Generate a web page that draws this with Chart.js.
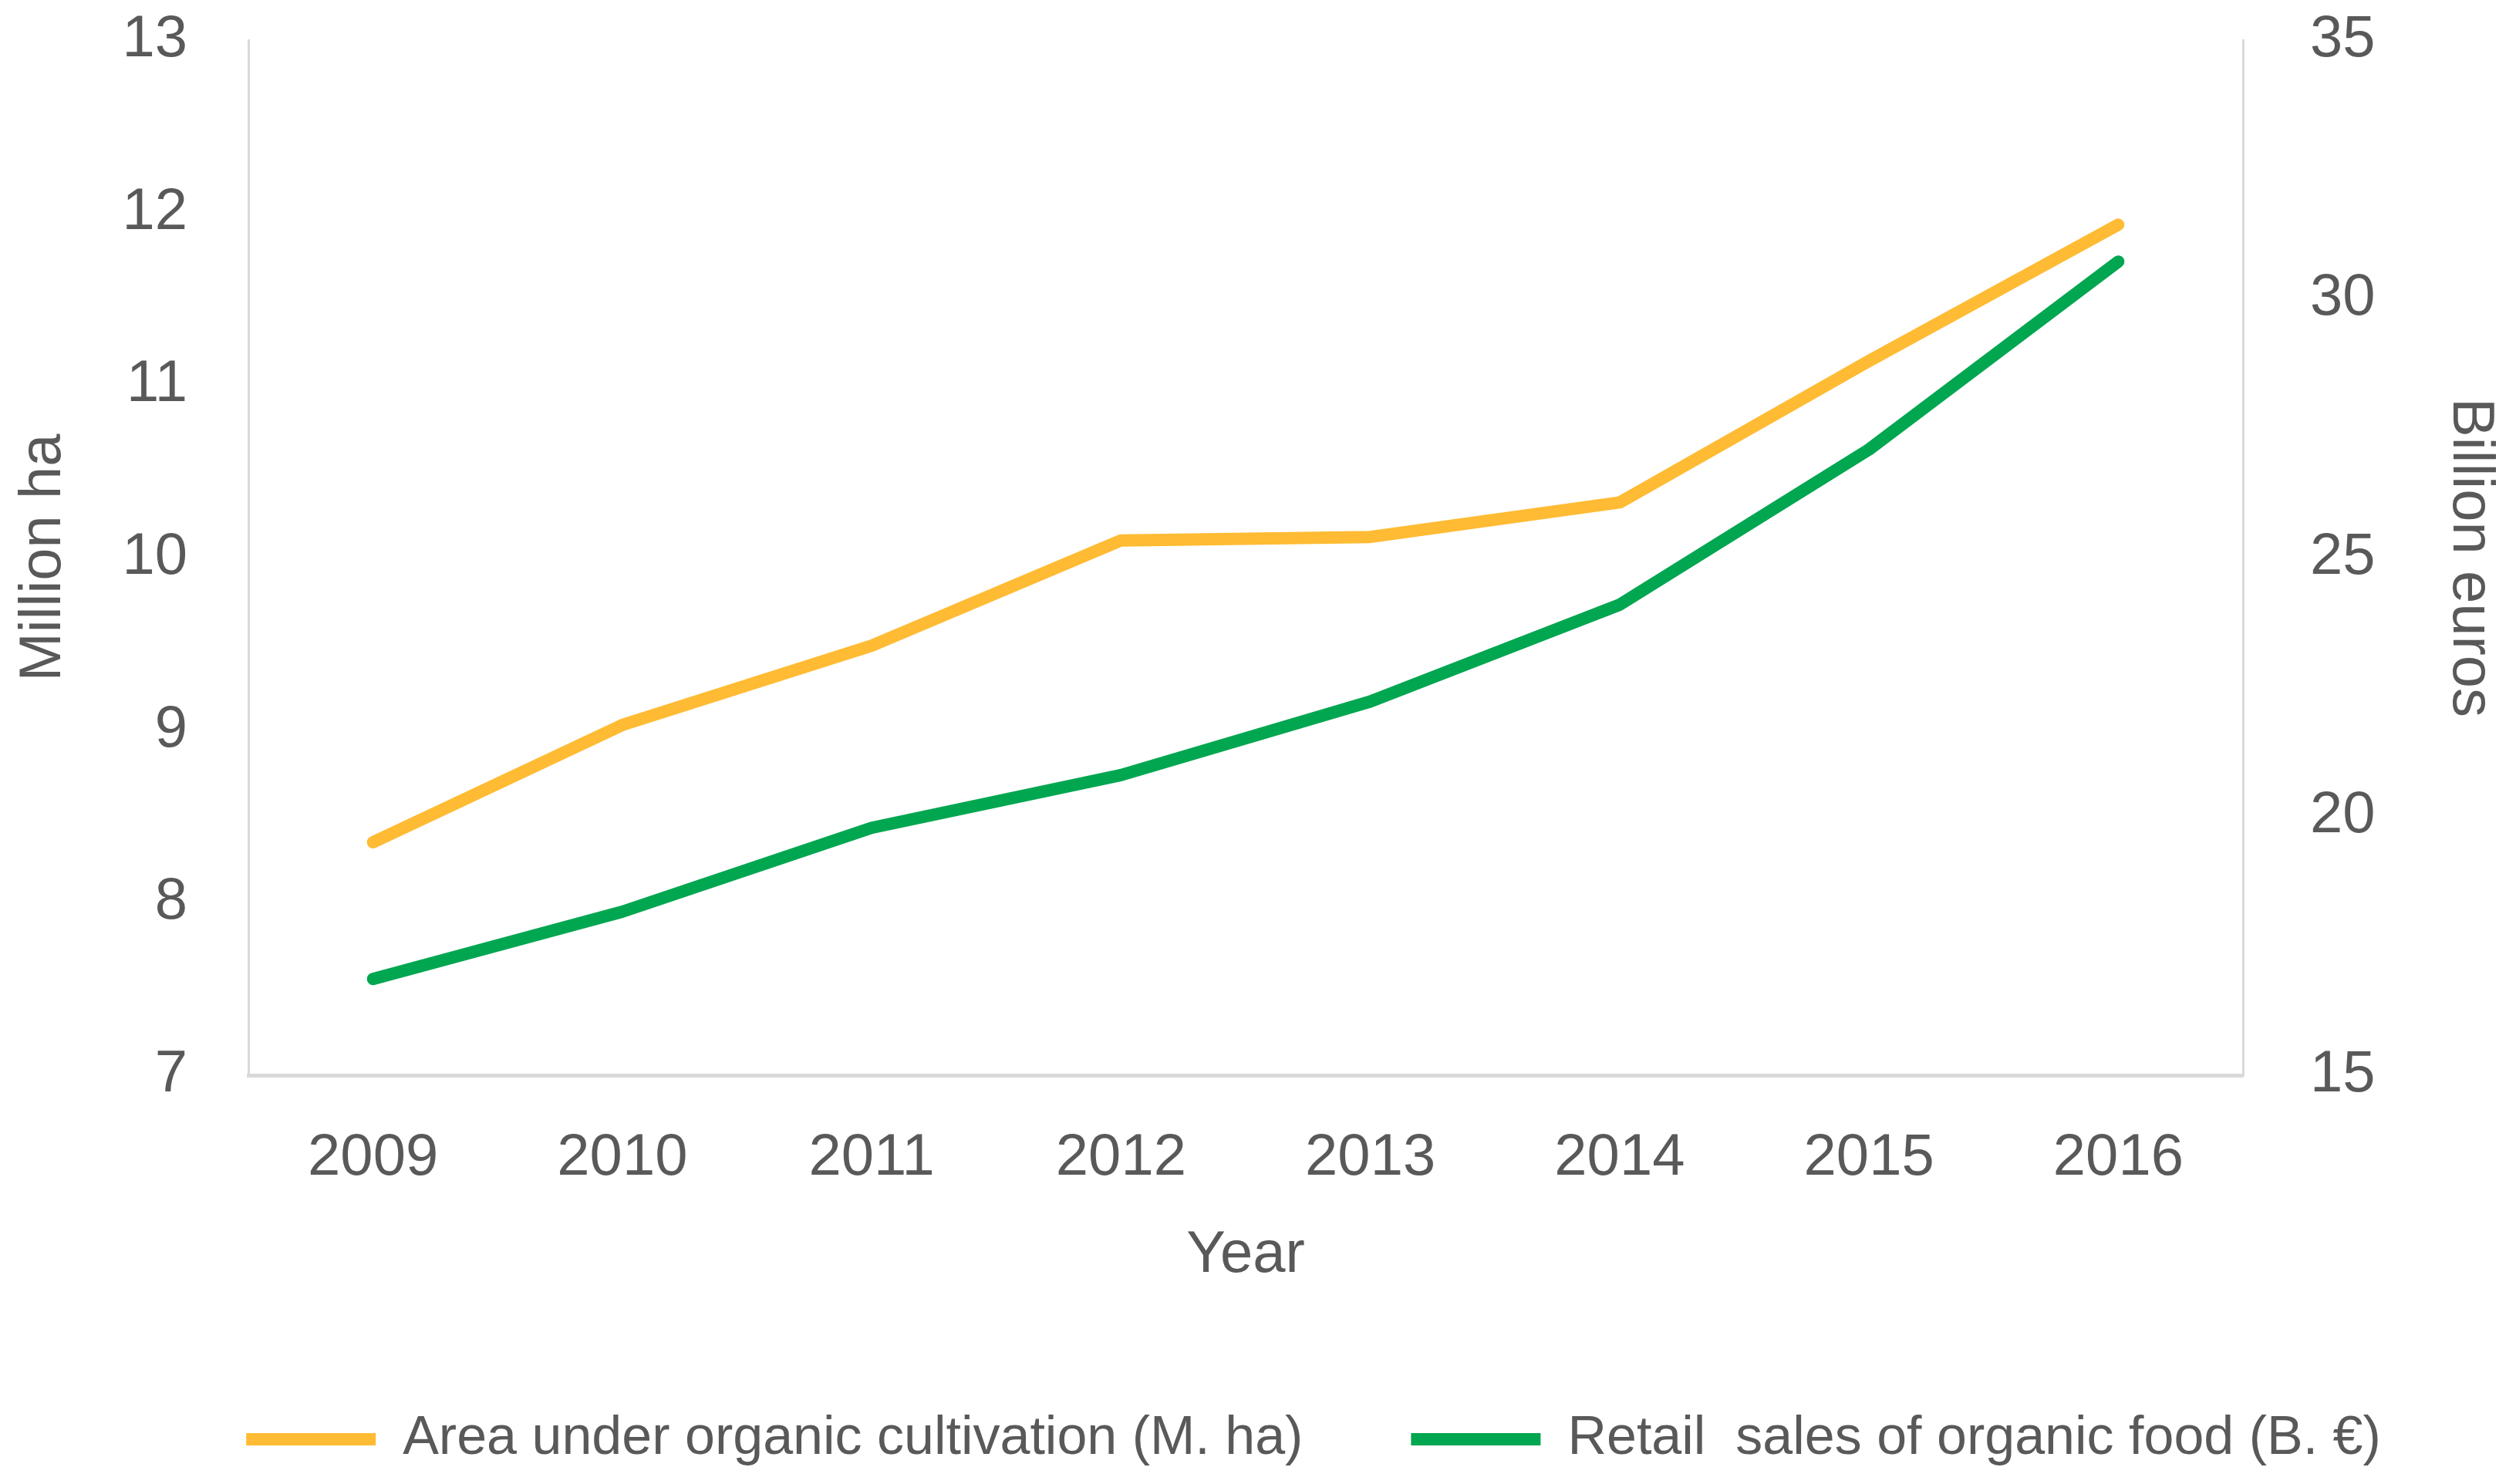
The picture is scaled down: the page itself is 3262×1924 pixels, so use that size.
<!doctype html>
<html lang="en">
<head>
<meta charset="utf-8">
<title>Organic area and retail sales</title>
<script src="https://cdn.jsdelivr.net/npm/chart.js@4.4.4/dist/chart.umd.min.js"></script>
<style>
  html, body { margin: 0; padding: 0; background: #fff; }
  canvas { display: block; }
</style>
</head>
<body>
<canvas id="chart" width="3262" height="1924"></canvas>
<script>
// Values.
const YEARS = ["2009", "2010", "2011", "2012", "2013", "2014", "2015", "2016"];
const AREA_MHA = [8.35, 9.03, 9.49, 10.1, 10.12, 10.32, 11.14, 11.93];
const SALES_BEUR = [16.86, 18.16, 19.78, 20.8, 22.22, 24.09, 27.09, 30.72];

const LEFT_TICKS = { min: 7, max: 13, step: 1 };
const RIGHT_TICKS = { min: 15, max: 35, step: 5 };

const TEXT = "#595959";
const AXIS_LINE = "#D9D9D9";
const FONT = "'Liberation Sans Narrow', 'Liberation Sans', sans-serif";
const FS = 76;

// Frame of the plot area, in canvas pixels.
const W = 3262, H = 1924;
const PLOT_LEFT = 322, PLOT_RIGHT = 2908;
// negative right padding only widens the legend box so it centres like the original
const PAD_RIGHT = -144;

const font = { family: FONT, size: FS };

// Stop the y axes from reserving room for their end labels + tick padding,
// otherwise the plot top gets pushed down.
const noEndPadding = (s) => { s.paddingTop = 0; s.paddingBottom = 0; };

new Chart(document.getElementById("chart"), {
  type: "line",
  data: {
    labels: YEARS,
    datasets: [
      {
        label: "Area under organic cultivation (M. ha)", data: AREA_MHA,
        borderColor: "#FFBB33", backgroundColor: "#FFBB33", borderWidth: 16,
        borderCapStyle: "round", borderJoinStyle: "round",
        pointRadius: 0, tension: 0, yAxisID: "y",
      },
      {
        label: "Retail  sales of organic food (B. €)", data: SALES_BEUR,
        borderColor: "#00A650", backgroundColor: "#00A650", borderWidth: 16,
        borderCapStyle: "round", borderJoinStyle: "round",
        pointRadius: 0, tension: 0, yAxisID: "y1",
      },
    ],
  },
  options: {
    responsive: false, animation: false, devicePixelRatio: 1,
    layout: { padding: { top: 52, left: 0, right: PAD_RIGHT, bottom: 13 } },
    scales: {
      x: {
        offset: true,
        grid: { display: false, drawTicks: false },
        border: { display: true, color: AXIS_LINE, width: 5 },
        ticks: { color: TEXT, font, padding: 62, maxRotation: 0 },
        title: { display: true, text: "Year", color: TEXT, font, padding: { top: 0, bottom: 17 } },
        afterFit: (s) => { s.height = 297; },
      },
      y: {
        position: "left", min: LEFT_TICKS.min, max: LEFT_TICKS.max,
        grid: { display: false, drawTicks: false },
        border: { display: true, color: AXIS_LINE, width: 3 },
        ticks: { stepSize: LEFT_TICKS.step, color: TEXT, font, padding: 79 },
        title: { display: true, text: "Million ha", color: TEXT, font, padding: { top: 11, bottom: 0 } },
        afterFit: (s) => { s.width = PLOT_LEFT; noEndPadding(s); },
      },
      y1: {
        position: "right", min: RIGHT_TICKS.min, max: RIGHT_TICKS.max,
        grid: { display: false, drawTicks: false },
        border: { display: true, color: AXIS_LINE, width: 3 },
        ticks: { stepSize: RIGHT_TICKS.step, color: TEXT, font, padding: 87 },
        title: { display: true, text: "Billion euros", color: TEXT, font, padding: { top: 14 - PAD_RIGHT, bottom: 0 } },
        afterFit: (s) => { s.width = W - PAD_RIGHT - PLOT_RIGHT; noEndPadding(s); },
      },
    },
    plugins: {
      tooltip: { enabled: false },
      legend: {
        position: "bottom",
        labels: {
          color: TEXT, font: { family: FONT, size: 70 }, padding: 140,
          usePointStyle: true, pointStyle: "line", pointStyleWidth: 168,
        },
      },
    },
  },
});
</script>
</body>
</html>
